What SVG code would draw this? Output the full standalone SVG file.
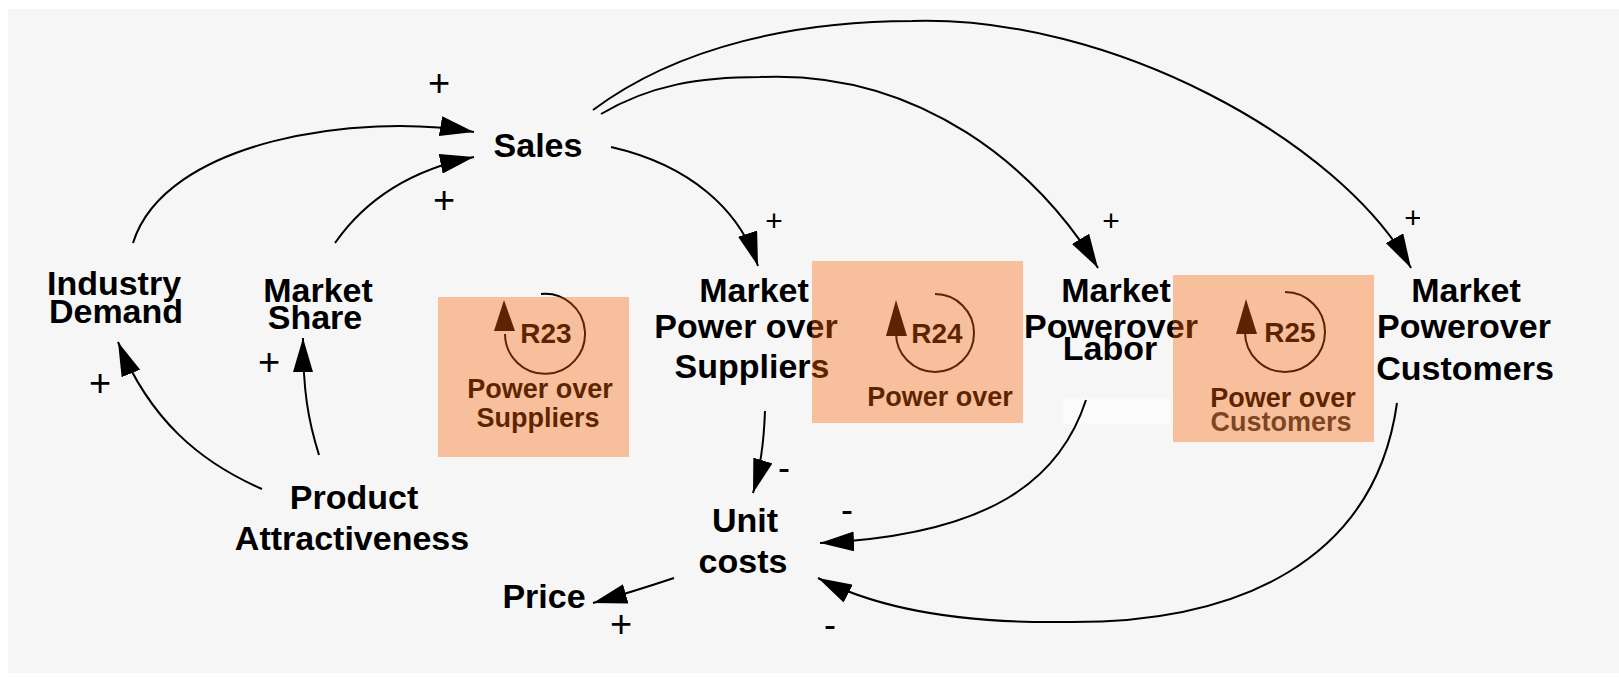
<svg xmlns="http://www.w3.org/2000/svg" width="1619" height="678" viewBox="0 0 1619 678">
  <defs>
    <style>
      .node { font-family: "Liberation Sans", Arial, sans-serif; font-weight: bold; font-size: 34px; fill: #000; text-anchor: middle; }
      .loopt { font-family: "Liberation Sans", Arial, sans-serif; font-weight: bold; font-size: 27px; fill: #000; text-anchor: middle; }
      .rid { font-family: "Liberation Sans", Arial, sans-serif; font-weight: bold; font-size: 28px; fill: #000; text-anchor: middle; }
      .sign { font-family: "Liberation Sans", Arial, sans-serif; font-size: 38px; fill: #000; text-anchor: middle; }
      .sign-s { font-family: "Liberation Sans", Arial, sans-serif; font-size: 30px; fill: #000; text-anchor: middle; }
      .minus { font-family: "Liberation Sans", Arial, sans-serif; font-size: 36px; fill: #000; text-anchor: middle; }
      .link { fill: none; stroke: #000; stroke-width: 2; marker-end: url(#ah); }
      .loop { fill: none; stroke: #000; stroke-width: 2; }
      .overlay { fill: #f96100; fill-opacity: 0.37; }
    </style>
    <marker id="ah" viewBox="0 0 34 20" refX="34" refY="10" markerWidth="34" markerHeight="20" markerUnits="userSpaceOnUse" orient="auto">
      <path d="M0,0 L34,10 L0,20 z" fill="#000"/>
    </marker>
    <clipPath id="cutplus"><rect x="1390" y="195" width="30" height="45"/></clipPath>
  </defs>

  <rect x="0" y="0" width="1619" height="678" fill="#ffffff"/>
  <rect x="8" y="9" width="1611" height="664" fill="#f6f6f6"/>
  <rect x="1062" y="398" width="108" height="26" fill="#ffffff" fill-opacity="0.6"/>

  <g id="connectors">
    <path class="link" d="M133,243 C165,140 360,112 474,132"/>
    <path class="link" d="M335,243 C365,200 410,170 474,157"/>
    <path class="link" d="M611,147 C690,165 740,210 758,266"/>
    <path class="link" d="M601,114 C650,85 700,77 760,77 C920,70 1038,168 1098,268"/>
    <path class="link" d="M593,110 C680,45 800,21 912,21 C1110,15 1340,140 1411,268"/>
    <path class="link" d="M262,489 C200,462 150,420 118,342"/>
    <path class="link" d="M319,455 C308,420 303,390 303,338"/>
    <path class="link" d="M765,411 C764,440 760,470 753,493"/>
    <path class="link" d="M1086,400 C1060,480 990,535 820,543"/>
    <path class="link" d="M1397,403 C1375,560 1240,625 1060,622 C960,623 880,610 818,578"/>
    <path class="link" d="M674,578 C650,586 625,594 593,603"/>
    <text class="sign" x="439" y="96">+</text>
    <text class="sign" x="444" y="213">+</text>
    <text class="sign" x="100" y="396">+</text>
    <text class="sign" x="269" y="375">+</text>
    <text class="sign" x="621" y="637">+</text>
    <text class="sign-s" x="774" y="231">+</text>
    <text class="sign-s" x="1111" y="231">+</text>
    <text class="sign-s" x="1413" y="228" clip-path="url(#cutplus)">+</text>
    <text class="minus" x="784" y="480">-</text>
    <text class="minus" x="847" y="522">-</text>
    <text class="minus" x="830" y="637">-</text>
  </g>

  <g id="sales"><text class="node" x="538" y="157">Sales</text></g>
  <g id="industry-demand">
    <text class="node" x="114" y="295">Industry</text>
    <text class="node" x="116" y="323">Demand</text>
  </g>
  <g id="market-share">
    <text class="node" x="318" y="302">Market</text>
    <text class="node" x="315" y="329">Share</text>
  </g>
  <g id="product-attractiveness">
    <text class="node" x="354" y="509">Product</text>
    <text class="node" x="352" y="550">Attractiveness</text>
  </g>
  <g id="market-power-suppliers">
    <text class="node" x="754" y="302">Market</text>
    <text class="node" x="746" y="338">Power over</text>
    <text class="node" x="752" y="378">Suppliers</text>
  </g>
  <g id="market-power-labor">
    <text class="node" x="1116" y="302">Market</text>
    <text class="node" x="1111" y="338">Powerover</text>
    <text class="node" x="1110" y="360">Labor</text>
  </g>
  <g id="market-power-customers">
    <text class="node" x="1466" y="302">Market</text>
    <text class="node" x="1464" y="338">Powerover</text>
    <text class="node" x="1465" y="380">Customers</text>
  </g>
  <g id="unit-costs">
    <text class="node" x="745" y="532">Unit</text>
    <text class="node" x="743" y="573">costs</text>
  </g>
  <g id="price"><text class="node" x="544" y="608">Price</text></g>

  <g id="loop-r23">
    <path class="loop" d="M541,294 A40,40 0 1 1 505,334"/>
    <polygon points="504,300 494,331 515,331" fill="#000"/>
    <text class="rid" x="546" y="343">R23</text>
    <text class="loopt" x="540" y="398">Power over</text>
    <text class="loopt" x="538" y="427">Suppliers</text>
    <rect class="overlay" x="438" y="297" width="191" height="160"/>
  </g>
  <g id="loop-r24">
    <path class="loop" d="M935,294 A39,39 0 1 1 896,333"/>
    <polygon points="896,300 886,336 907,336" fill="#000"/>
    <text class="rid" x="937" y="343">R24</text>
    <text class="loopt" x="940" y="406">Power over</text>
    <rect class="overlay" x="812" y="261" width="211" height="162"/>
  </g>
  <g id="loop-r25">
    <path class="loop" d="M1285,292 A40,40 0 1 1 1245,332"/>
    <polygon points="1246,299 1236,334 1257,334" fill="#000"/>
    <text class="rid" x="1290" y="342">R25</text>
    <text class="loopt" x="1283" y="407">Power over</text>
    <text class="loopt" x="1281" y="431" fill-opacity="0.8">Customers</text>
    <rect class="overlay" x="1173" y="275" width="201" height="167"/>
  </g>
</svg>
